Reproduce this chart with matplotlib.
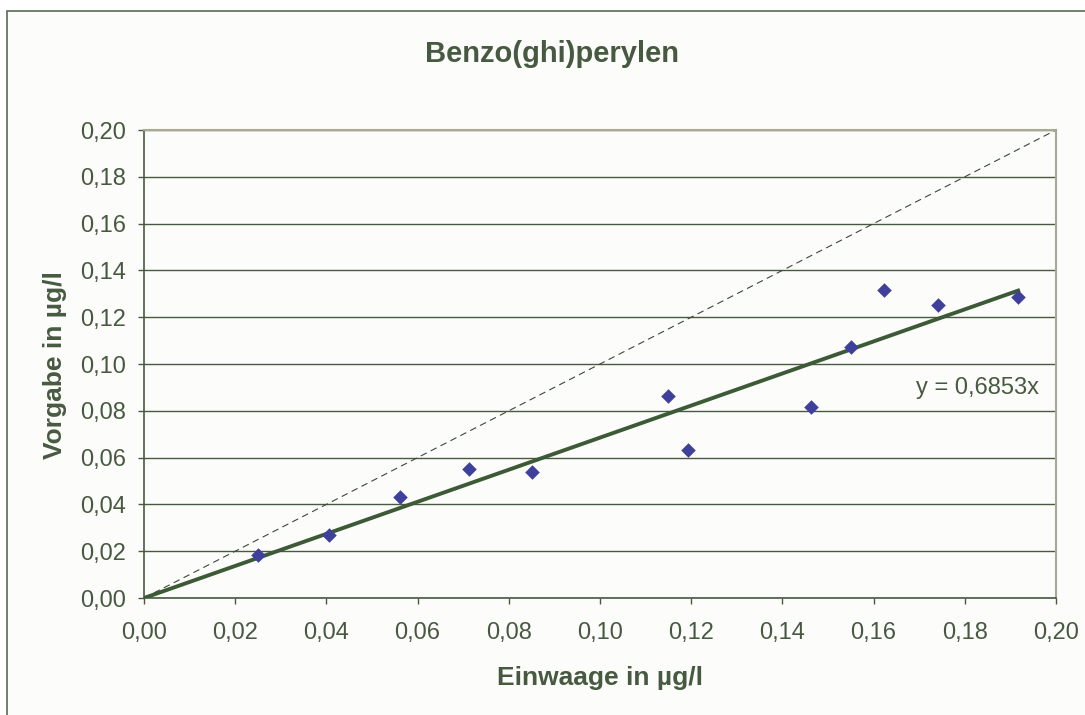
import matplotlib
matplotlib.use("Agg")
import matplotlib.pyplot as plt
from matplotlib.patches import Rectangle
from matplotlib.ticker import FuncFormatter
import numpy as np

plt.rcParams['font.family'] = ['Liberation Sans', 'DejaVu Sans']

# measured points (Einwaage, Vorgabe) in µg/l
einwaage = [0.0250, 0.0406, 0.0561, 0.0713, 0.0851, 0.1149, 0.1193,
            0.1463, 0.1550, 0.1623, 0.1741, 0.1917]
vorgabe = [0.0184, 0.0269, 0.0432, 0.0551, 0.0538, 0.0863, 0.0632,
           0.0816, 0.1073, 0.1316, 0.1252, 0.1286]
slope = 0.6853
ticks = [0.00, 0.02, 0.04, 0.06, 0.08, 0.10, 0.12, 0.14, 0.16, 0.18, 0.20]

green = '#475a41'
fig = plt.figure(figsize=(10.85, 7.15), dpi=100)
fig.patch.set_facecolor('white')
# outer chart frame
fig.patches.append(Rectangle((7 / 1085, -0.01), 1.02, 1 - 11 / 715 + 0.01,
                             transform=fig.transFigure, facecolor='#fcfcfa',
                             edgecolor='#5a6a55', linewidth=1.2, zorder=-1))

ax = fig.add_axes([144 / 1085, 1 - 598 / 715, 912 / 1085, 468 / 715])
ax.set_facecolor('#fcfcfa')
ax.set_xlim(0, 0.2)
ax.set_ylim(0, 0.2)
ax.set_xticks(ticks)
ax.set_yticks(ticks)
fmt = FuncFormatter(lambda v, p: ('%.2f' % v).replace('.', ','))
ax.xaxis.set_major_formatter(fmt)
ax.yaxis.set_major_formatter(fmt)
ax.tick_params(direction='out', length=4.5, width=1, color=green,
               labelcolor=green, labelsize=17)
ax.tick_params(axis='x', pad=12.5)
ax.tick_params(axis='y', pad=8.5)

ax.yaxis.grid(True, color=green, linewidth=1)
ax.set_axisbelow(True)
for s in ['left', 'bottom']:
    ax.spines[s].set_color(green)
    ax.spines[s].set_linewidth(1.2)
for s in ['top', 'right']:
    ax.spines[s].set_color('#a8a894')
    ax.spines[s].set_linewidth(1.5)

# 1:1 line
ax.plot([0, 0.2], [0, 0.2], color='#3a4a36', linewidth=0.8,
        linestyle=(0, (6, 4)), zorder=2)
# trend line through origin
xt = np.array([0, max(einwaage)])
ax.plot(xt, slope * xt, color='#3d5a37', linewidth=2.8, zorder=3)
ax.scatter(einwaage, vorgabe, marker='D', s=55, color='#3f3f9c', zorder=4,
           linewidths=0)

ax.text(0.1693, 0.0897, 'y = 0,6853x', fontsize=17, color=green,
        ha='left', va='center')

fig.text(0.509, 1 - 62 / 715, 'Benzo(ghi)perylen', fontsize=21, fontweight='bold',
         color=green, ha='center', va='baseline')
ax.set_xlabel('Einwaage in µg/l', fontsize=19, fontweight='bold', color=green)
ax.set_ylabel('Vorgabe in µg/l', fontsize=19, fontweight='bold', color=green)
ax.xaxis.set_label_coords(0.5, -0.171)
ax.yaxis.set_label_coords(-0.0976, 0.498)
ax.xaxis.label.set_va('center')
ax.yaxis.label.set_va('center')

fig.savefig('out.png', dpi=100)
